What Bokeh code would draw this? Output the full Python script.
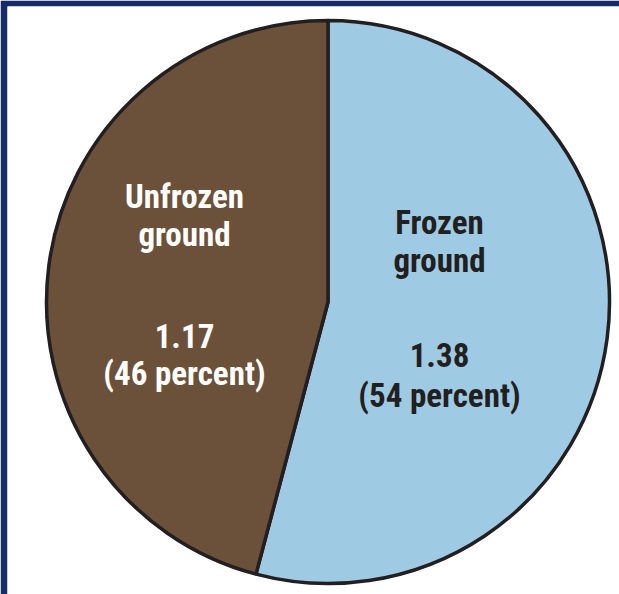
import math
from bokeh.plotting import figure
from bokeh.models import Range1d
from bokeh.core.properties import value
from bokeh.embed import file_html
from bokeh.resources import INLINE

# Data
categories = ["Frozen ground", "Unfrozen ground"]
amounts = [1.38, 1.17]
percents = [54, 46]
label_lines = [["Frozen", "ground"], ["Unfrozen", "ground"]]
colors = ["#9ecbe3", "#6b5139"]
text_colors = ["#231f20", "#ffffff"]

W, H = 619, 594
p = figure(width=W, height=H, output_backend="svg", toolbar_location=None,
           x_range=Range1d(7, W), y_range=Range1d(0, H - 6),
           min_border=0, min_border_left=7, min_border_top=6)
p.axis.visible = False
p.grid.visible = False
p.outline_line_color = None
p.background_fill_color = "white"
p.border_fill_color = "#172c66"

def Y(py):
    return H - py

# pie
cx, cy, r = 327.5, Y(301.5), 281.5
total = sum(amounts)
start = math.pi / 2
starts, ends = [], []
for a in amounts:
    sweep = 2 * math.pi * a / total
    starts.append(start)
    ends.append(start - sweep)
    start -= sweep
p.wedge(x=[cx] * 2, y=[cy] * 2, radius=r, start_angle=starts, end_angle=ends,
        direction="clock", fill_color=colors, line_color="#231f20", line_width=3.5)

# labels
font = value("Roboto Condensed, DejaVu Sans Condensed, sans-serif")
label_x = [439, 184]
label_baselines = [[221.5, 259.5, 354, 395], [195.5, 233.5, 335, 372.5]]
for i in range(2):
    texts = label_lines[i] + ["%.2f" % amounts[i], "(%d percent)" % percents[i]]
    ys = [Y(b) for b in label_baselines[i]]
    p.text(x=[label_x[i]] * 4, y=ys, text=texts, text_font=font, text_font_style="bold",
           text_font_size="33px", text_color=text_colors[i], text_align="center",
           text_baseline="alphabetic")

open("out.html", "w").write(file_html(p, INLINE))
